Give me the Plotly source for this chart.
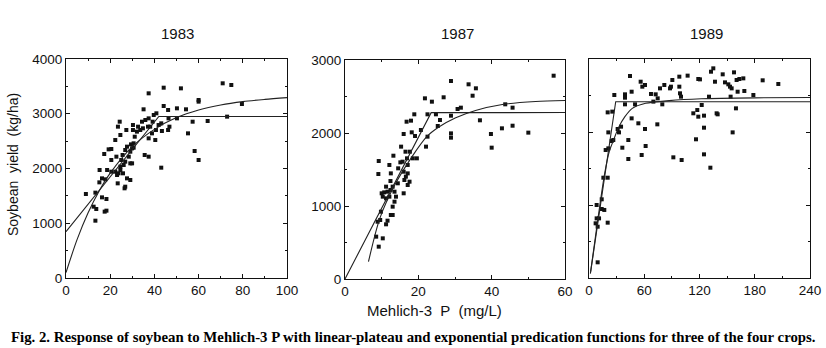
import plotly.graph_objects as go

# ---------------- data ----------------
years = ["1983", "1987", "1989"]

p83_x = [9.0, 13.3, 12.5, 13.7, 13.3, 16.3, 18.3, 17.5, 18.3, 15.1, 15.2, 16.3, 17.3, 19.3, 18.6, 17.8,
         20.5, 20.5, 22.3, 23.5, 24.3, 24.6, 22.8, 22.3, 23.1, 23.8, 23.4, 24.6, 25.0, 25.6, 26.1, 26.8,
         26.5, 26.8, 27.6, 29.1, 26.8, 27.6, 29.4, 29.9, 30.6, 30.3, 30.3, 29.1, 29.9, 27.3, 31.1, 32.6,
         34.4, 35.1, 34.8, 35.6, 37.4, 37.4, 37.4, 37.1, 37.4, 38.9, 39.7, 40.9, 40.4, 40.7, 43.1, 44.2,
         44.2, 43.1, 43.4, 46.2, 46.4, 46.8, 46.2, 50.2, 50.2, 52.0, 54.3, 55.2, 57.3, 58.2, 60.0, 60.0,
         60.0, 64.1, 70.9, 74.8, 72.9, 79.6, 35.9, 38.1, 41.9, 39.2, 28.4, 24.6, 25.8, 29.1, 30.6, 32.1,
         33.6, 20.5]
p83_y = [1534, 1559, 1303, 1260, 1047, 1473, 1443, 1212, 1230, 1747, 1973, 1820, 2265, 2350, 1973, 1802,
         1942, 2155, 2520, 2764, 2855, 2612, 2216, 1942, 1881, 1912, 1729, 1973, 2155, 2247, 2064, 2125,
         1638, 1668, 1820, 1790, 2338, 2399, 2441, 2368, 2380, 2703, 2794, 2094, 2094, 2703, 2581, 2764,
         2855, 3081, 2734, 2247, 2216, 3373, 2916, 2764, 2551, 2642, 2977, 3008, 2520, 2703, 2015, 3476,
         3142, 2825, 2685, 3069, 2916, 2764, 2703, 3099, 2916, 3464, 3081, 2642, 2855, 2320, 2155, 3221,
         3251, 2868, 3556, 3525, 2947, 3178, 2886, 2764, 2794, 2855, 2216, 2034, 1912, 2307, 2460, 2673,
         2703, 2356]

p87_x = [9.2, 9.1, 8.5, 9.2, 10.3, 8.9, 9.6, 11.2, 11.6, 12.5, 13.0, 9.8, 10.0, 10.7, 11.2, 11.6, 12.4,
         10.3, 12.1, 12.5, 13.2, 12.4, 13.0, 13.5, 13.9, 14.4, 14.5, 15.1, 15.3, 15.7, 16.0, 16.2, 16.0,
         16.5, 16.9, 17.1, 16.6, 17.1, 16.0, 16.8, 18.0, 18.2, 17.7, 18.5, 19.6, 18.9, 19.1, 21.8, 23.7,
         22.1, 22.5, 22.5, 24.8, 25.3, 25.9, 26.9, 28.9, 28.9, 28.9, 28.9, 30.7, 31.6, 33.7, 35.7, 34.8,
         36.8, 39.8, 40.0, 42.8, 43.7, 45.7, 45.7, 50.0, 56.9, 20.7, 17.6, 17.1, 13.5, 13.0, 12.1, 11.2]
p87_y = [1616, 1438, 580, 443, 557, 785, 808, 749, 799, 877, 877, 922, 1174, 1187, 1105, 1196, 1219,
         1128, 1562, 1447, 1689, 1342, 1265, 1196, 1128, 1311, 1516, 1598, 1813, 1607, 1470, 1356, 1174,
         1744, 1653, 1562, 1402, 1288, 1986, 2155, 2169, 2009, 1744, 1653, 1653, 2256, 1959, 2475, 2429,
         1813, 1950, 2256, 2256, 2096, 2178, 2489, 2712, 2237, 1995, 1936, 2329, 2347, 2667, 2612, 2511,
         2174, 1986, 1799, 2064, 2393, 2347, 2100, 2005, 2785, 2041, 1333, 1447, 1059, 991, 1128, 1265]

p89_x = [9.4, 7.2, 9.4, 8.3, 10.9, 8.3, 13.8, 16.6, 13.8, 20.3, 15.6, 20.3, 18.1, 21.0, 21.0, 20.3, 25.3,
         27.5, 24.6, 26.4, 31.1, 32.6, 36.2, 34.8, 42.7, 42.7, 39.1, 39.1, 44.5, 46.3, 46.3, 50.0, 53.6,
         56.1, 57.9, 60.8, 57.2, 60.8, 61.5, 67.3, 69.9, 74.2, 72.4, 74.6, 77.1, 79.6, 81.8, 88.0, 90.5,
         91.6, 89.0, 98.1, 98.1, 98.8, 99.9, 100.6, 107.1, 113.3, 116.2, 117.6, 118.7, 120.5, 118.7, 122.4,
         124.9, 124.9, 124.9, 130.3, 131.8, 132.5, 135.0, 136.8, 138.6, 139.7, 145.2, 147.7, 151.3, 153.1,
         154.9, 153.8, 156.0, 157.5, 159.6, 160.3, 163.3, 161.4, 167.6, 168.7, 178.5, 188.6, 205.6, 39.1]
p89_y = [215, 749, 703, 817, 817, 1000, 945, 932, 1078, 758, 1374, 1374, 1753, 1776, 1995, 2269, 2279,
         2507, 1877, 1890, 2041, 1995, 1785, 2073, 1890, 1630, 2516, 2470, 2767, 2552, 2187, 2379, 2119,
         2689, 2621, 2644, 1685, 2041, 1808, 2521, 2416, 2105, 2516, 2461, 2598, 2379, 2644, 2598, 2712,
         1653, 2621, 2758, 2621, 2530, 2484, 1616, 2772, 2256, 1900, 2301, 2726, 2721, 2210, 2370,
         2224, 2059, 1694, 2484, 1511, 2826, 2872, 2689, 2256, 2242, 2790, 2680, 2653, 2621,
         2598, 2484, 1995, 2817, 2324, 2712, 2726, 2552, 2735, 2562, 2507, 2708, 2658, 2379]

# linear-plateau functions
lp83_x = [0, 42, 100]
lp83_y = [846, 2950, 2950]
lp87_x = [0, 23.5, 60]
lp87_y = [0, 2279, 2280]
lp89_x = [1.8, 29, 240]
lp89_y = [87, 2414, 2414]

# exponential functions
ex83_x = [0, 5, 10, 15, 20, 30, 40, 50, 60, 70, 80, 90, 100]
ex83_y = [100, 700, 1190, 1590, 1915, 2400, 2715, 2930, 3069, 3161, 3222, 3262, 3294]
ex87_x = [6.4, 9.5, 13.6, 18.2, 22.3, 25.6, 30.2, 35.6, 42.9, 52, 60]
ex87_y = [237, 831, 1290, 1670, 1950, 2082, 2209, 2309, 2391, 2432, 2445]
ex89_x = [1.5, 10, 17, 22, 27, 32, 39, 47, 61.5, 87, 122, 180, 240]
ex89_y = [60, 840, 1430, 1730, 1900, 2060, 2210, 2324, 2393, 2430, 2455, 2468, 2472]

x_ranges = [[0, 100], [0, 60], [0, 240]]
x_ticks = [[0, 20, 40, 60, 80, 100], [0, 20, 40, 60], [0, 60, 120, 180, 240]]
x_minor = [10, 10, 30]
y_ranges = [[0, 4000], [0, 3000], [0, 3000]]
y_ticks = [[0, 1000, 2000, 3000, 4000], [0, 1000, 2000, 3000], [0, 1000, 2000, 3000]]

# ---------------- figure ----------------
W, H = 826, 348


def tx(t):
    return t / W


def ty(t):
    return 1 - t / H


boxes = [(66, 287, 59, 278), (345, 565, 60, 279), (589, 810, 59, 278)]
title_x = [177, 457, 706]

pts = [(p83_x, p83_y), (p87_x, p87_y), (p89_x, p89_y)]
lps = [(lp83_x, lp83_y), (lp87_x, lp87_y), (lp89_x, lp89_y)]
exs = [(ex83_x, ex83_y), (ex87_x, ex87_y), (ex89_x, ex89_y)]

fig = go.Figure()
SANS = "Liberation Sans, Arial, sans-serif"
NARROW = "Liberation Sans Narrow, Arial Narrow, Liberation Sans, sans-serif"
tickfont = dict(family=SANS, size=13.5, color="#111")

for i in range(3):
    xa = "x" if i == 0 else f"x{i+1}"
    ya = "y" if i == 0 else f"y{i+1}"
    fig.add_trace(go.Scatter(x=pts[i][0], y=pts[i][1], mode="markers", xaxis=xa, yaxis=ya,
                             marker=dict(symbol="square", size=4, color="#111"), showlegend=False))
    fig.add_trace(go.Scatter(x=lps[i][0], y=lps[i][1], mode="lines", xaxis=xa, yaxis=ya,
                             line=dict(color="#222", width=1.1), showlegend=False))
    fig.add_trace(go.Scatter(x=exs[i][0], y=exs[i][1], mode="lines", xaxis=xa, yaxis=ya,
                             line=dict(color="#222", width=1.1, shape="spline", smoothing=0.8),
                             showlegend=False))
    x0, x1, y0, y1 = boxes[i]
    xkey = "xaxis" if i == 0 else f"xaxis{i+1}"
    ykey = "yaxis" if i == 0 else f"yaxis{i+1}"
    fig.update_layout(**{
        xkey: dict(domain=[tx(x0), tx(x1)], range=x_ranges[i], tickvals=x_ticks[i],
                   anchor=ya, showline=True, linecolor="#111", linewidth=1, mirror="ticks",
                   ticks="inside", ticklen=4, tickcolor="#111", showgrid=False, zeroline=False,
                   tickfont=tickfont, automargin=False,
                   minor=dict(dtick=x_minor[i], ticks="inside", ticklen=2, tickcolor="#111",
                              showgrid=False)),
        ykey: dict(domain=[ty(y1), ty(y0)], range=y_ranges[i], tickvals=y_ticks[i],
                   anchor=xa, showline=True, linecolor="#111", linewidth=1, mirror="ticks",
                   ticks="inside", ticklen=4, tickcolor="#111", showgrid=False, zeroline=False,
                   tickfont=tickfont, showticklabels=(i < 2), automargin=False,
                   minor=dict(dtick=500, ticks="inside", ticklen=2, tickcolor="#111",
                              showgrid=False)),
    })
    fig.add_annotation(text=years[i], x=tx(title_x[i]), y=ty(33), xref="paper", yref="paper",
                       xanchor="center", yanchor="middle", showarrow=False,
                       font=dict(family=NARROW, size=15, color="#111"))

fig.add_annotation(text="Soybean  yield  (kg/ha)", x=tx(13), y=ty(165), xref="paper", yref="paper",
                   xanchor="center", yanchor="middle", textangle=-90, showarrow=False,
                   font=dict(family=SANS, size=14, color="#111"))
fig.add_annotation(text="Mehlich-3  P  (mg/L)", x=tx(434), y=ty(310), xref="paper", yref="paper",
                   xanchor="center", yanchor="middle", showarrow=False,
                   font=dict(family=SANS, size=15, color="#111"))
fig.add_annotation(text="<b>Fig. 2. Response of soybean to Mehlich-3 P with linear-plateau and exponential "
                        "predication functions for three of the four crops.</b>",
                   x=tx(413), y=ty(337), xref="paper", yref="paper", showarrow=False,
                   xanchor="center", yanchor="middle",
                   font=dict(family="Liberation Serif, Times New Roman, serif", size=14.8, color="#000"))

fig.update_layout(width=W, height=H, margin=dict(l=0, r=0, t=0, b=0),
                  paper_bgcolor="white", plot_bgcolor="white")
fig.write_html("out.html")
